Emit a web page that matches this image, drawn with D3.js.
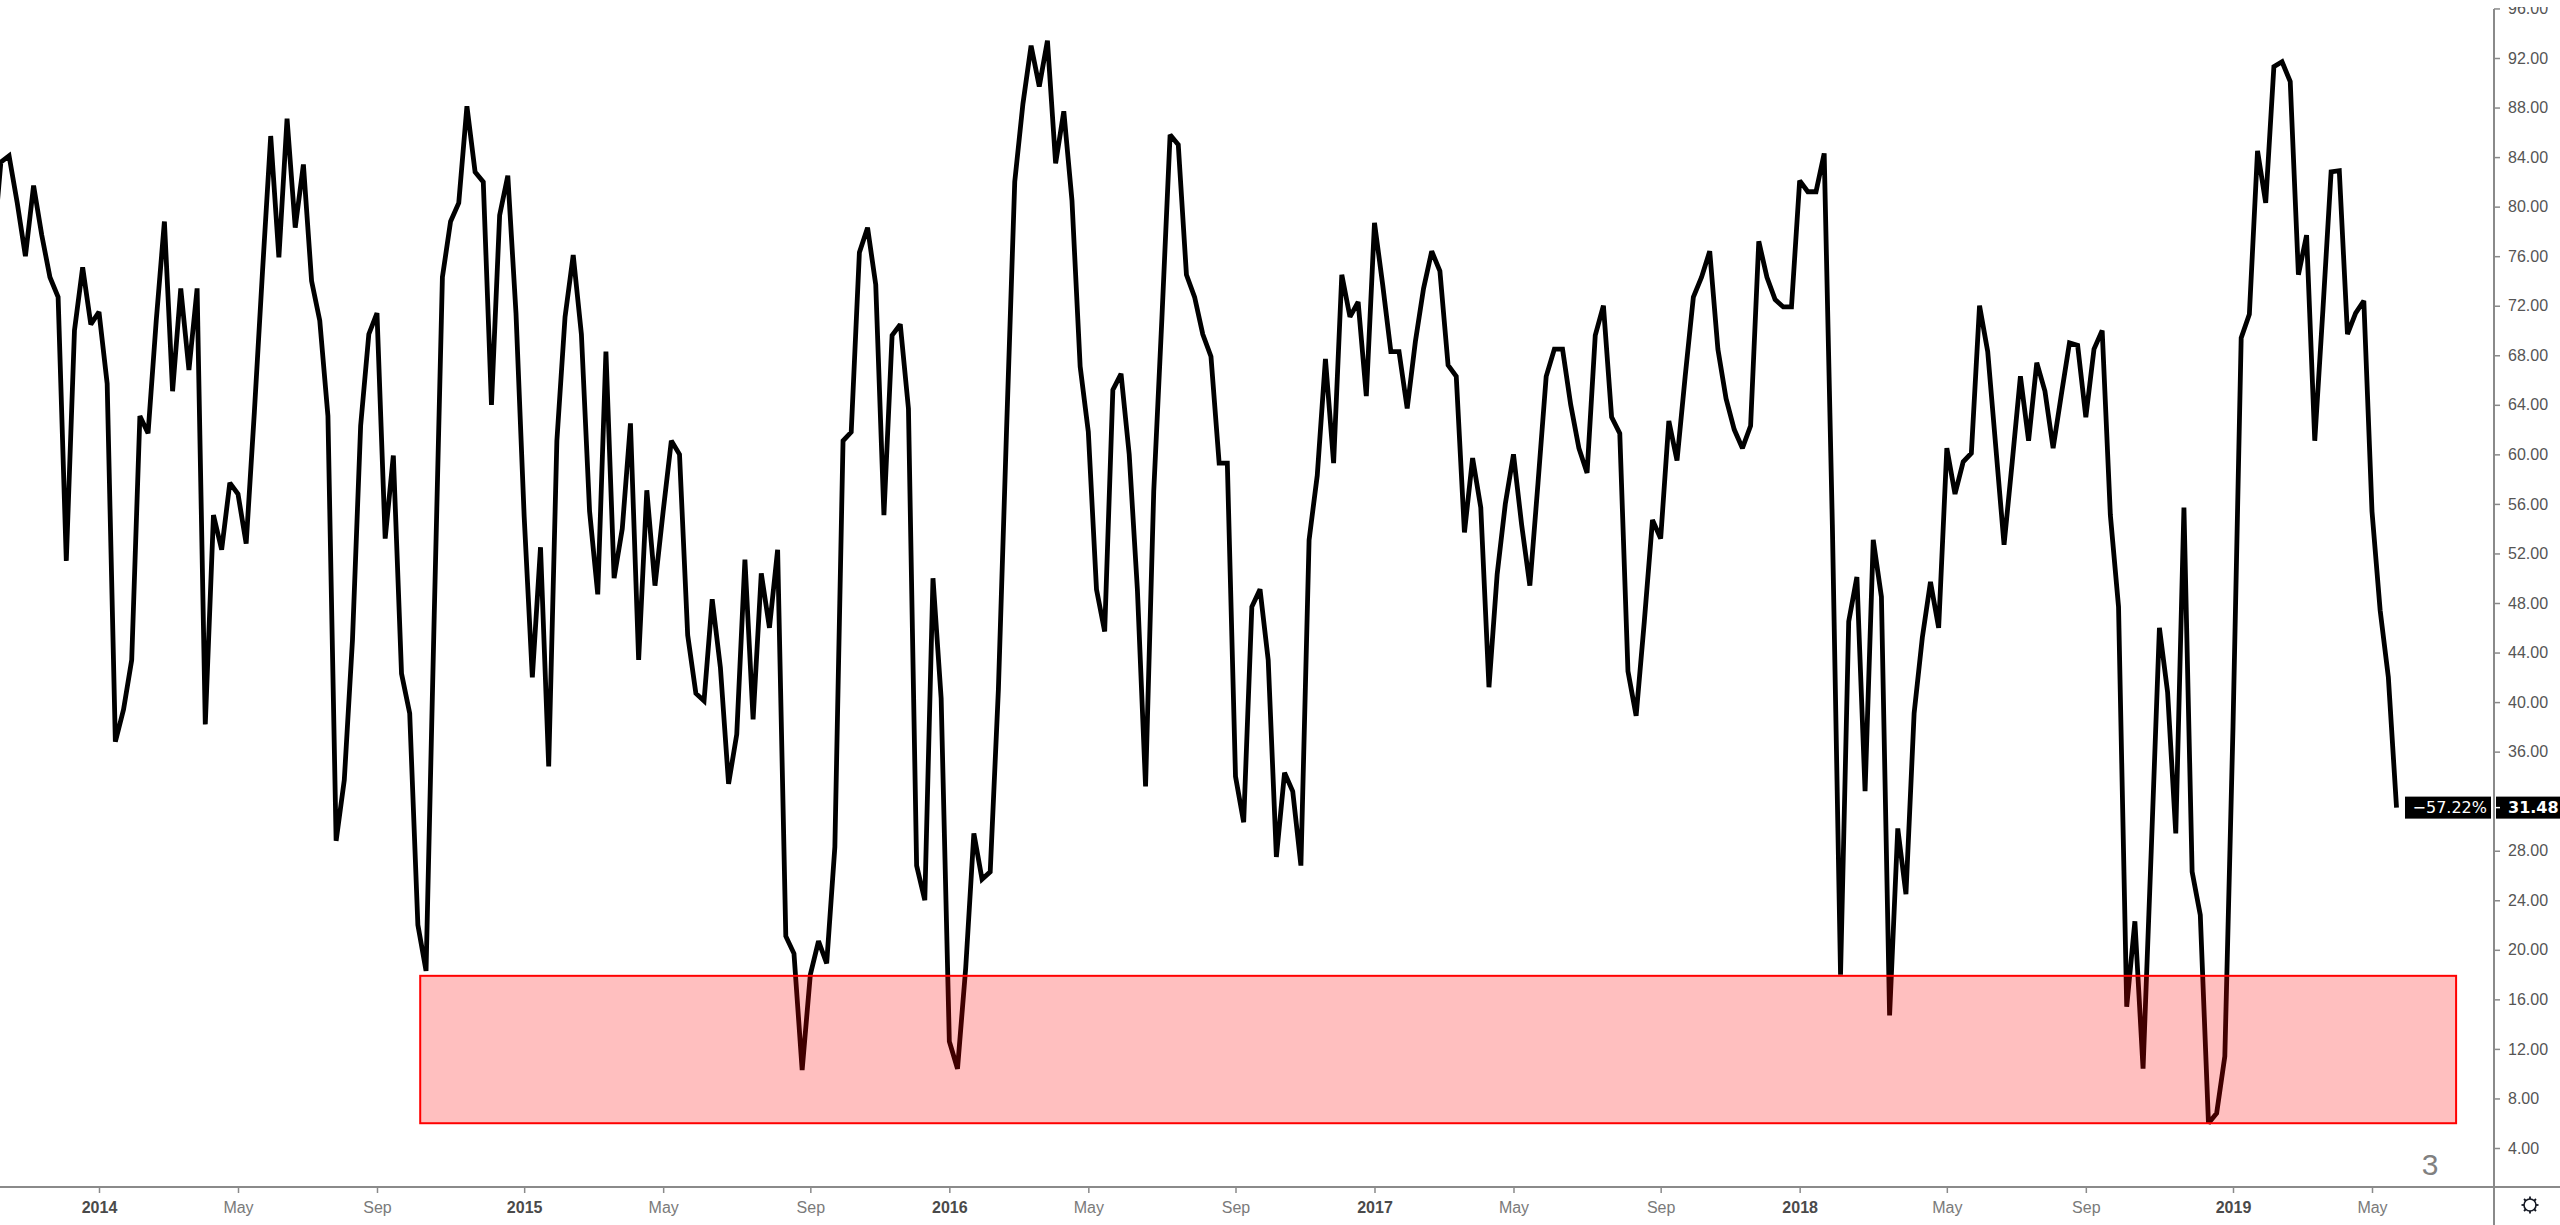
<!DOCTYPE html>
<html>
<head>
<meta charset="utf-8">
<script src="https://cdn.jsdelivr.net/npm/d3@7"></script>
<style>
  body { margin: 0; background: #fff; }
  svg { display: block; }
</style>
</head>
<body>
<div id="chart"></div>
<script>
// weekly closes, first bar = week of 2013-10-07
const firstWeek = "2013-10-07";
const values = [
  76.0, 83.6, 84.1, 80.3, 76.0, 81.7, 77.7, 74.3, 72.7, 51.4, 70.0, 75.1, 70.5,
  71.5, 65.7, 36.8, 39.4, 43.4, 63.1, 61.7, 70.8, 78.8, 65.1, 73.4, 66.8, 73.4,
  38.2, 55.1, 52.3, 57.7, 56.8, 52.8, 63.4, 74.8, 85.7, 75.9, 87.1, 78.3, 83.4,
  74.0, 70.8, 63.1, 28.8, 33.7, 45.0, 62.3, 69.7, 71.4, 53.2, 59.9, 42.3, 39.1,
  22.0, 18.3, 47.0, 74.3, 78.8, 80.3, 88.1, 82.8, 82.0, 64.0, 79.3, 82.5, 71.4,
  55.0, 42.0, 52.5, 34.8, 61.1, 71.1, 76.1, 69.7, 55.4, 48.7, 68.3, 50.0, 54.0,
  62.5, 43.4, 57.1, 49.4, 55.4, 61.1, 60.0, 45.4, 40.7, 40.1, 48.3, 42.8, 33.4,
  37.4, 51.5, 38.6, 50.4, 46.0, 52.3, 21.1, 19.7, 10.3, 18.0, 20.7, 18.9, 28.3,
  61.1, 61.8, 76.3, 78.3, 73.7, 55.1, 69.6, 70.5, 63.7, 26.8, 24.0, 50.0, 40.3,
  12.6, 10.4, 18.5, 29.4, 25.7, 26.3, 41.0, 62.0, 82.0, 88.3, 93.0, 89.7, 93.4,
  83.5, 87.7, 80.5, 67.1, 61.8, 49.1, 45.7, 65.2, 66.5, 60.0, 49.1, 33.2, 57.0,
  71.0, 85.8, 85.0, 74.5, 72.7, 69.7, 67.9, 59.3, 59.3, 34.0, 30.3, 47.7, 49.1,
  43.4, 27.5, 34.3, 32.8, 26.8, 53.1, 58.3, 67.7, 59.3, 74.5, 71.1, 72.3, 64.7,
  78.7, 73.7, 68.3, 68.3, 63.7, 69.1, 73.4, 76.4, 74.8, 67.2, 66.3, 53.7, 59.7,
  55.7, 41.2, 50.3, 56.0, 60.0, 54.3, 49.4, 57.7, 66.3, 68.5, 68.5, 64.0, 60.5,
  58.5, 69.6, 72.0, 63.0, 61.7, 42.5, 38.9, 46.5, 54.7, 53.2, 62.7, 59.5, 66.3,
  72.7, 74.3, 76.4, 68.5, 64.5, 62.0, 60.5, 62.3, 77.2, 74.3, 72.5, 71.9, 71.9,
  82.1, 81.2, 81.2, 84.3, 54.3, 18.0, 46.5, 50.1, 32.8, 53.1, 48.5, 14.7, 29.8,
  24.5, 39.1, 45.2, 49.7, 46.0, 60.5, 56.8, 59.4, 60.1, 72.0, 68.3, 60.5, 52.7,
  59.4, 66.3, 61.1, 67.4, 65.1, 60.5, 64.8, 69.0, 68.8, 63.0, 68.5, 70.0, 55.1,
  47.7, 15.4, 22.3, 10.4, 28.0, 46.0, 40.8, 29.4, 55.7, 26.3, 22.8, 6.0, 6.8,
  11.4, 38.0, 69.4, 71.3, 84.5, 80.3, 91.3, 91.7, 90.1, 74.5, 77.7, 61.1, 71.7,
  82.8, 82.9, 69.7, 71.4, 72.4, 55.4, 47.4, 42.0, 31.48
];

const yTicks = [4, 8, 12, 16, 20, 24, 28, 32, 36, 40, 44, 48, 52, 56, 60, 64, 68, 72, 76, 80, 84, 88, 92, 96];
const xTickDates = ["2014-01-06", "2014-05-05", "2014-09-01", "2015-01-05", "2015-05-04", "2015-09-07",
  "2016-01-04", "2016-05-02", "2016-09-05", "2017-01-02", "2017-05-01", "2017-09-04",
  "2018-01-01", "2018-05-07", "2018-09-03", "2019-01-07", "2019-05-06"];
const xTickLabels = ["2014", "May", "Sep", "2015", "May", "Sep", "2016", "May", "Sep",
  "2017", "May", "Sep", "2018", "May", "Sep", "2019", "May"];

// red box drawn on the chart
const zoneDates = ["2014-10-08", "2019-07-17"];
const zoneRange = [6.0, 17.9];

const changeText = "\u221257.22%";
const cornerText = "3";

class WeeklyLine {

    constructor(_config, _data) {
      this.config = {
        parentElement: _config.parentElement,
        containerWidth: _config.containerWidth || 2560,
        containerHeight: _config.containerHeight || 1225,
        axisX: _config.axisX || 2494,
        axisY: _config.axisY || 1187
      }
      this.data = _data;
      this.initVis();
    }

    initVis() {
        let vis = this;
        const parse = d3.utcParse("%Y-%m-%d");
        vis.parse = parse;

        vis.svg = d3.select(vis.config.parentElement)
            .append("svg")
                .attr("width", vis.config.containerWidth)
                .attr("height", vis.config.containerHeight)
                .style("font-family", "'DejaVu Sans', Verdana, sans-serif");

        const defs = vis.svg.append("defs");
        defs.append("clipPath")
            .attr("id", "pane")
          .append("rect")
            .attr("x", 0).attr("y", 0)
            .attr("width", vis.config.axisX)
            .attr("height", vis.config.axisY);

        defs.append("clipPath")
            .attr("id", "scaleClip")
          .append("rect")
            .attr("x", 0).attr("y", 7)
            .attr("width", 100)
            .attr("height", vis.config.axisY - 7);

        // 2014-01-06 .. 2019-01-07 is 261 weekly bars
        vis.x = d3.scaleUtc()
            .domain([parse("2014-01-06"), parse("2019-01-07")])
            .range([99, 2233]);

        vis.y = d3.scaleLinear()
            .domain([4, 92])
            .range([1148, 58]);

        vis.lineG = vis.svg.append("g").attr("clip-path", "url(#pane)");
        vis.zoneG = vis.svg.append("g").attr("clip-path", "url(#pane)");
        vis.axisG = vis.svg.append("g");

        vis.renderVis();
    }

    renderVis() {
        let vis = this;
        const cfg = vis.config;
        const last = vis.data[vis.data.length - 1];
        const ly = vis.y(last.value);

        const line = d3.line()
            .x(d => vis.x(d.date))
            .y(d => vis.y(d.value));

        vis.lineG.append("path")
            .datum(vis.data)
            .attr("d", line)
            .attr("fill", "none")
            .attr("stroke", "#000")
            .attr("stroke-width", 4.8)
            .attr("stroke-linejoin", "miter")
            .attr("stroke-miterlimit", 2.5);

        const zx0 = vis.x(vis.parse(zoneDates[0]));
        const zx1 = vis.x(vis.parse(zoneDates[1]));
        vis.zoneG.append("rect")
            .attr("x", zx0)
            .attr("y", vis.y(zoneRange[1]))
            .attr("width", zx1 - zx0)
            .attr("height", vis.y(zoneRange[0]) - vis.y(zoneRange[1]))
            .attr("fill", "rgba(255,0,0,0.25)")
            .attr("stroke", "#ff0000")
            .attr("stroke-width", 2);

        // price scale; the tick under the last-value label is hidden
        const yAxis = d3.axisRight(vis.y)
            .tickValues(yTicks.filter(t => Math.abs(vis.y(t) - ly) > 16))
            .tickFormat(d3.format(".2f"))
            .tickSize(6)
            .tickPadding(8);

        const yG = vis.axisG.append("g")
            .attr("transform", `translate(${cfg.axisX},0)`)
          .append("g")
            .attr("clip-path", "url(#scaleClip)")
            .call(yAxis);
        yG.select(".domain").remove();
        yG.selectAll(".tick line").attr("stroke", "#8a8a8a").attr("stroke-width", 1.5);
        yG.selectAll(".tick text")
            .attr("fill", "#555")
            .style("font-size", "16px");

        // time scale
        const xAxis = d3.axisBottom(vis.x)
            .tickValues(xTickDates.map(vis.parse))
            .tickFormat((d, i) => xTickLabels[i])
            .tickSize(6)
            .tickPadding(9);

        const xG = vis.axisG.append("g")
            .attr("transform", `translate(0,${cfg.axisY})`)
            .call(xAxis);
        xG.select(".domain").remove();
        xG.selectAll(".tick line").attr("stroke", "#8a8a8a").attr("stroke-width", 1.5);
        xG.selectAll(".tick text")
            .style("font-size", "16px")
            .attr("fill", (d, i) => /^\d{4}$/.test(xTickLabels[i]) ? "#4a4a4a" : "#7a7a7a")
            .attr("font-weight", (d, i) => /^\d{4}$/.test(xTickLabels[i]) ? "bold" : "normal");

        vis.axisG.append("line")
            .attr("x1", 0).attr("x2", cfg.containerWidth)
            .attr("y1", cfg.axisY).attr("y2", cfg.axisY)
            .attr("stroke", "#8a8a8a").attr("stroke-width", 2);

        vis.axisG.append("line")
            .attr("x1", cfg.axisX).attr("x2", cfg.axisX)
            .attr("y1", 9).attr("y2", cfg.containerHeight)
            .attr("stroke", "#8a8a8a").attr("stroke-width", 2);

        // last value labels
        vis.axisG.append("rect")
            .attr("x", 2405).attr("y", ly - 11)
            .attr("width", 86).attr("height", 22)
            .attr("fill", "#000");
        vis.axisG.append("text")
            .attr("x", 2487).attr("y", ly)
            .attr("dy", "0.36em")
            .attr("text-anchor", "end")
            .attr("fill", "#fff")
            .style("font-size", "16px")
            .text(changeText);

        vis.axisG.append("rect")
            .attr("x", cfg.axisX + 2).attr("y", ly - 11)
            .attr("width", cfg.containerWidth - cfg.axisX - 2).attr("height", 22)
            .attr("fill", "#000");
        vis.axisG.append("line")
            .attr("x1", cfg.axisX + 1).attr("x2", cfg.axisX + 6)
            .attr("y1", ly).attr("y2", ly)
            .attr("stroke", "#fff").attr("stroke-width", 1.5);
        vis.axisG.append("text")
            .attr("x", cfg.axisX + 14).attr("y", ly)
            .attr("dy", "0.36em")
            .attr("fill", "#fff")
            .attr("font-weight", "bold")
            .style("font-size", "16px")
            .text(d3.format(".2f")(last.value));

        vis.svg.append("text")
            .attr("x", 2430).attr("y", 1164)
            .attr("dy", "0.36em")
            .attr("text-anchor", "middle")
            .attr("fill", "#808080")
            .style("font-family", "'Liberation Sans', sans-serif")
            .style("font-size", "30px")
            .text(cornerText);

        // settings icon
        const gear = vis.svg.append("g").attr("transform", "translate(2530,1205)");
        gear.append("circle")
            .attr("r", 6)
            .attr("fill", "none")
            .attr("stroke", "#131722")
            .attr("stroke-width", 1.6);
        d3.range(8).forEach(k => {
            const a = k * Math.PI / 4;
            gear.append("line")
                .attr("x1", Math.cos(a) * 6).attr("y1", Math.sin(a) * 6)
                .attr("x2", Math.cos(a) * 8.5).attr("y2", Math.sin(a) * 8.5)
                .attr("stroke", "#131722")
                .attr("stroke-width", 1.8);
        });
    }
}

const start = d3.utcParse("%Y-%m-%d")(firstWeek);
const series = values.map((v, i) => ({ date: d3.utcDay.offset(start, 7 * i), value: v }));

new WeeklyLine({ parentElement: "#chart" }, series);
</script>
</body>
</html>
